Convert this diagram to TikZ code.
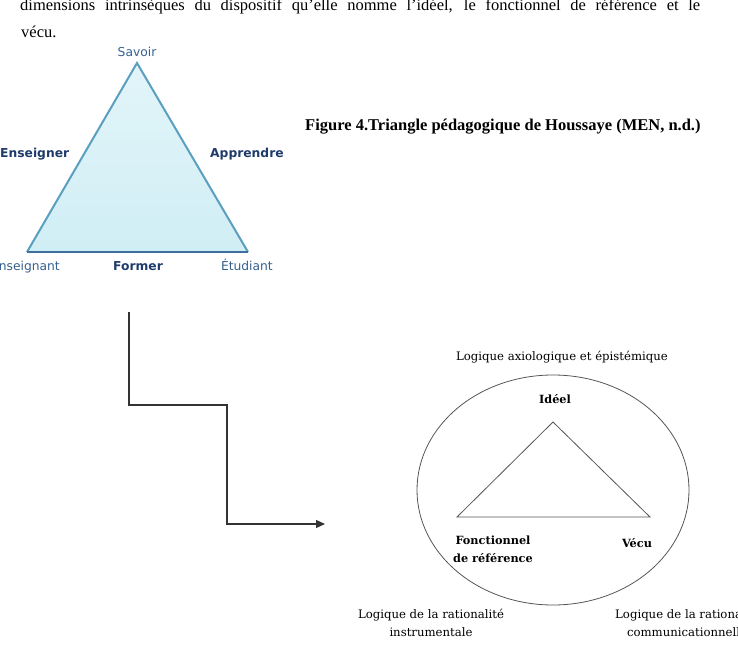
\documentclass[tikz,border=0pt]{standalone}
\usepackage{fontspec}
\setmainfont{Liberation Serif}
\newfontfamily\uifont{DejaVu Sans}
\newfontfamily\diagserif{DejaVu Serif}
\usetikzlibrary{arrows.meta,shapes.geometric}
\definecolor{triedge}{HTML}{5A9EC0}
\definecolor{tribase}{HTML}{3F6E9C}
\definecolor{trifilltop}{HTML}{E2F5F9}
\definecolor{trifillbot}{HTML}{D0EEF5}
\definecolor{uiblue}{HTML}{35608F}
\definecolor{uibold}{HTML}{1F3B6B}
\definecolor{linegray}{HTML}{555555}
\tikzset{
  uilabel/.style={font=\uifont\fontsize{12.3}{14}\selectfont, text=uiblue, inner sep=0pt},
  uiboldlabel/.style={font=\uifont\bfseries\fontsize{12.3}{14}\selectfont, text=uibold, inner sep=0pt},
  bodytext/.style={font=\fontsize{16.5}{20}\selectfont, inner sep=0pt},
  captiontext/.style={font=\bfseries\fontsize{16.5}{18}\selectfont, inner sep=0pt},
  serlabel/.style={font=\diagserif\fontsize{11.7}{15}\selectfont, text=black, inner sep=0pt, align=center},
  serbold/.style={font=\diagserif\bfseries\fontsize{11.3}{15}\selectfont, text=black, inner sep=0pt, align=center},
  connector/.style={draw=black!80, line width=1.2pt, -{Triangle[length=9pt,width=8pt]}},
  thinline/.style={draw=linegray, line width=0.8pt}
}
\begin{document}
\begin{tikzpicture}[x=1pt,y=-1pt]
\useasboundingbox (0,0) rectangle (738,652);

% body text (top, partially cut)
\node[bodytext, anchor=base west] (para1) at (20,11) {\makebox[680pt][s]{dimensions intrinsèques du dispositif qu'elle nomme l'idéel, le fonctionnel de référence et le}};
\node[bodytext, anchor=base west] (para2) at (21,38) {vécu.};

% Houssaye triangle
\coordinate (S) at (137,63);
\coordinate (E) at (27,252);
\coordinate (T) at (248,252);
\shade[top color=trifilltop, bottom color=trifillbot] (S) -- (E) -- (T) -- cycle;
\draw[triedge, line width=2pt, line join=miter] (E) -- (S) -- (T);
\draw[tribase, line width=2pt] (E) -- (T);

\node[uilabel, anchor=base] (savoir) at (137,57) {Savoir};
\node[uiboldlabel, anchor=base west] (enseigner) at (0,158) {Enseigner};
\node[uiboldlabel, anchor=base west] (apprendre) at (210,158) {Apprendre};
\node[uilabel, anchor=base east] (enseignant) at (60,270) {Enseignant};
\node[uiboldlabel, anchor=base] (former) at (138,270) {Former};
\node[uilabel, anchor=base east] (etudiant) at (273,270) {Étudiant};

% caption
\node[captiontext, anchor=base west] (caption) at (305,131) {Figure 4.Triangle pédagogique de Houssaye (MEN, n.d.)};

% connector
\coordinate (k0) at (129,312);
\coordinate (k1) at (227,405);
\coordinate (k2) at (325,524);
\draw[connector] (k0) |- (k1) |- (k2);

% Right diagram
\node[thinline, draw, ellipse, minimum width=272pt, minimum height=230pt, inner sep=0pt] (ell) at (553,490) {};
\coordinate (I) at (553,422);
\coordinate (F) at (457,517);
\coordinate (V) at (650,517);
\draw[thinline, line join=miter] (I) -- (F) -- (V) -- cycle;

\node[serlabel, anchor=base] (axio) at (562,360) {Logique axiologique et épistémique};
\node[serbold, anchor=base] (ideel) at (555,403) {Idéel};
\node[serbold, anchor=base] (fonct) at (493,544) {Fonctionnel};
\node[serbold, anchor=base] (fonct2) at (493,562) {de référence};
\node[serbold, anchor=base] (vecu) at (637,547) {Vécu};
\node[serlabel, anchor=base] (instr) at (431,618) {Logique de la rationalité};
\node[serlabel, anchor=base] (instr2) at (431,636) {instrumentale};
\node[serlabel, anchor=base west] (comm) at (615,618) {Logique de la rationalité};
\node[serlabel, anchor=base] (comm2) at (687,636) {communicationnelle};
\end{tikzpicture}
\end{document}
